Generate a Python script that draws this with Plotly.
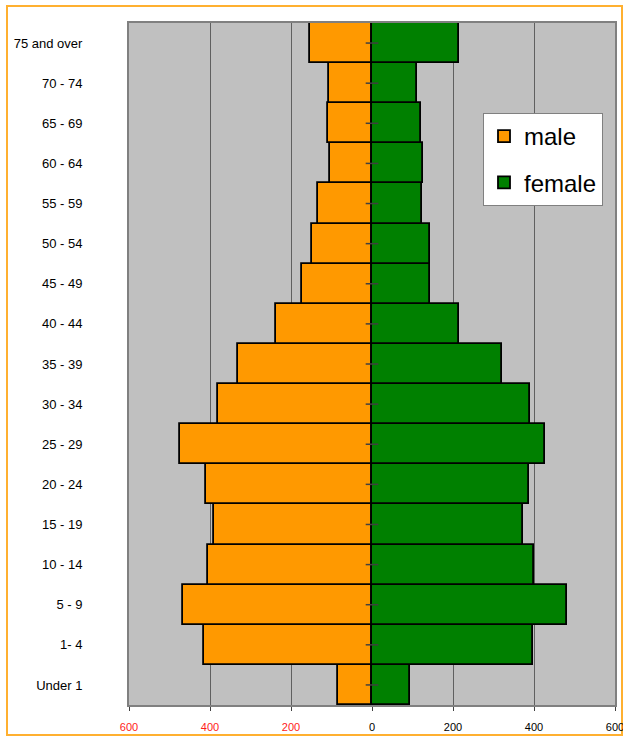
import plotly.graph_objects as go

age_groups = ["Under 1", "1- 4", "5 - 9", "10 - 14", "15 - 19", "20 - 24", "25 - 29",
              "30 - 34", "35 - 39", "40 - 44", "45 - 49", "50 - 54", "55 - 59",
              "60 - 64", "65 - 69", "70 - 74", "75 and over"]
male = [83, 415, 466, 405, 390, 410, 475, 380, 331, 237, 172, 148, 133, 103, 108, 107, 153]
female = [95, 397, 481, 401, 372, 387, 427, 391, 322, 214, 144, 144, 123, 125, 120, 110, 214]
x_tick_vals = [-600, -400, -200, 0, 200, 400, 600]
x_tick_labels = ["600", "400", "200", "0", "200", "400", "600"]

W, H = 623, 736
L, R, T, B = 129, 8, 23, 31
pw, ph = W - L - R, H - T - B

fig = go.Figure()
fig.add_trace(go.Bar(
    y=age_groups, x=[-v for v in male], orientation="h", name="male",
    marker=dict(color="#FF9900", line=dict(color="#000000", width=1.8)),
    legendgroup="m",
))
fig.add_trace(go.Bar(
    y=age_groups, x=female, orientation="h", name="female",
    marker=dict(color="#008000", line=dict(color="#000000", width=1.8)),
    legendgroup="f",
))
# small category tick marks on the zero line
fig.add_trace(go.Scatter(
    y=age_groups, x=[0] * len(age_groups), mode="markers",
    marker=dict(symbol="line-ew", size=9, line=dict(color="#404040", width=1.5)),
    showlegend=False, hoverinfo="skip",
))

ticktext = []
for v, t in zip(x_tick_vals, x_tick_labels):
    if v < 0:
        ticktext.append('<span style="color:#FF1A1A">' + t + "</span>")
    else:
        ticktext.append(t)

fig.update_layout(
    width=W, height=H,
    margin=dict(l=L, r=R, t=T, b=B, autoexpand=False),
    paper_bgcolor="white",
    plot_bgcolor="#C0C0C0",
    barmode="relative",
    bargap=0,
    font=dict(family="Liberation Sans, Arial, sans-serif", color="#000000"),
    xaxis=dict(
        range=[-600, 600], tickvals=x_tick_vals, ticktext=ticktext,
        tickfont=dict(size=11, color="#000000"),
        showgrid=True, gridcolor="#606060", gridwidth=1,
        zeroline=False, showline=True, linecolor="#808080", linewidth=2,
        mirror=True, ticks="outside", ticklen=4, tickcolor="#404040",
        ticklabelstandoff=7, automargin=False, ticklabeloverflow="allow",
    ),
    yaxis=dict(
        type="category", categoryorder="array", categoryarray=age_groups,
        range=[-0.5, len(age_groups) - 0.5], autorange=False,
        tickfont=dict(size=13, color="#000000"),
        showgrid=False, zeroline=False, showline=True, linecolor="#808080",
        linewidth=2, mirror=True, ticks="", ticklabelstandoff=42,
        automargin=False, ticklabeloverflow="allow",
    ),
    legend=dict(
        x=(483 - L) / pw, y=(705 - 113) / ph, xanchor="left", yanchor="top",
        bgcolor="white", bordercolor="#808080", borderwidth=1,
        font=dict(size=24, family="Liberation Sans, Arial, sans-serif"),
        traceorder="grouped", tracegroupgap=12, itemwidth=30,
    ),
    shapes=[dict(
        type="rect", xref="paper", yref="paper",
        x0=(7 - L) / pw, x1=(622 - L) / pw,
        y0=(705 - 735) / ph, y1=(705 - 6) / ph,
        line=dict(color="#FFB030", width=2), fillcolor="rgba(0,0,0,0)",
        layer="below",
    )],
    showlegend=True,
)

fig.write_html(
    "out.html",
    config={"displayModeBar": False},
    post_script="document.body.style.margin='0';document.body.style.overflow='hidden';",
)
